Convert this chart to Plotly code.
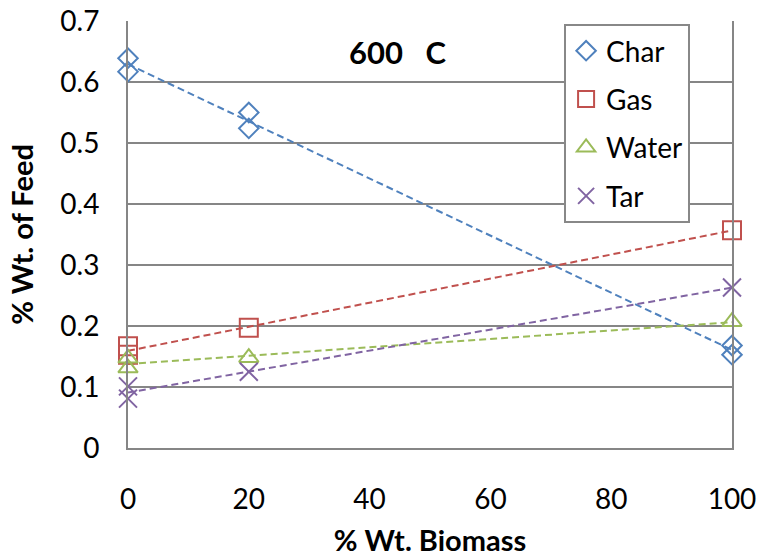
import numpy as np
import plotly.graph_objects as go

# Data
char_x = [0, 0, 20, 20, 100, 100]
char_y = [0.639, 0.617, 0.550, 0.524, 0.168, 0.153]
gas_x = [0, 0, 20, 100]
gas_y = [0.167, 0.153, 0.197, 0.357]
water_x = [0, 0, 20, 100]
water_y = [0.147, 0.131, 0.148, 0.207]
tar_x = [0, 0, 20, 100]
tar_y = [0.101, 0.081, 0.125, 0.263]

series_names = ["Char", "Gas", "Water", "Tar"]
x_ticks = [0, 20, 40, 60, 80, 100]
y_ticks = [0, 0.1, 0.2, 0.3, 0.4, 0.5, 0.6, 0.7]
y_tick_text = ["0", "0.1", "0.2", "0.3", "0.4", "0.5", "0.6", "0.7"]

FONT = "Lato"
colors = ["#4F81BD", "#C0504D", "#9BBB59", "#8064A2"]
symbols = ["diamond-open", "square-open", "triangle-up-open", "x-thin-open"]
sizes = [15, 18, 17, 18]

fig = go.Figure()
data = [(char_x, char_y), (gas_x, gas_y), (water_x, water_y), (tar_x, tar_y)]

# Linear trendlines (as Excel), computed from the series
for (xs, ys), c in zip(data, colors):
    k, b = np.polyfit(xs, ys, 1)
    tx = [min(xs), max(xs)]
    fig.add_trace(go.Scatter(
        x=tx, y=[k * t + b for t in tx], mode="lines",
        line=dict(color=c, width=2, dash="7px,4px"),
        showlegend=False, hoverinfo="skip", cliponaxis=False))

for (xs, ys), name, c, s, sz in zip(data, series_names, colors, symbols, sizes):
    fig.add_trace(go.Scatter(
        x=xs, y=ys, mode="markers", name=name, legendgroup=name,
        marker=dict(symbol=s, size=sz, color=c, line=dict(color=c, width=2)),
        cliponaxis=False))

fig.add_annotation(text="<b>600   C</b>", x=0.447, y=0.927, xref="paper", yref="paper",
                   xanchor="center", yanchor="middle",
                   showarrow=False, font=dict(family=FONT, size=31, color="black"))

fig.update_layout(
    width=760, height=557,
    margin=dict(l=128, r=28, t=21, b=109),
    paper_bgcolor="white", plot_bgcolor="white",
    font=dict(family=FONT, color="black"),
    legend=dict(x=0.722, y=0.993, xanchor="left", yanchor="top",
                bordercolor="#888888", borderwidth=2, bgcolor="white",
                font=dict(family=FONT, size=28, color="black"),
                tracegroupgap=9, itemwidth=30),
    xaxis=dict(range=[0, 100], tickvals=x_ticks, showgrid=False, zeroline=False,
               showline=True, linecolor="#868686", linewidth=2, automargin=False,
               ticks="", ticklabelstandoff=25,
               tickfont=dict(family=FONT, size=28, color="black"),
               title=dict(text="<b>% Wt. Biomass</b>", standoff=26,
                          font=dict(family=FONT, size=29, color="black"))),
    yaxis=dict(range=[0, 0.7], tickvals=y_ticks, ticktext=y_tick_text,
               showgrid=True, gridcolor="#868686", gridwidth=2, zeroline=False,
               showline=True, linecolor="#868686", linewidth=2, mirror=True,
               automargin=False, ticks="", ticklabelstandoff=21,
               tickfont=dict(family=FONT, size=28, color="black"),
               title=dict(text="<b>% Wt. of Feed</b>", standoff=18,
                          font=dict(family=FONT, size=29, color="black"))),
)

fig.write_html("out.html")
